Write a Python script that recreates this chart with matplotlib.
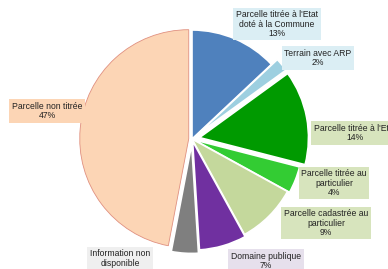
import matplotlib.pyplot as plt

labels = [
    "Parcelle titrée à l'Etat\ndoté à la Commune",
    "Terrain avec ARP",
    "Parcelle titrée à l'Etat",
    "Parcelle titrée au\nparticulier",
    "Parcelle cadastrée au\nparticulier",
    "Domaine publique",
    "Information non\ndisponible",
    "Parcelle non titrée",
]
shares = [13, 2, 14, 4, 9, 7, 4, 47]

colors = ["#4f81bd", "#9dcfe0", "#009a00", "#33cc33", "#c4d89c", "#7030a0", "#7f7f7f", "#fcd5b5"]
box_colors = ["#dbeef4", "#dbeef4", "#d7e4bd", "#d7e4bd", "#d7e4bd", "#e6e0ec", "#efefef", "#fcd5b5"]
explode = [0.0, 0.07, 0.07, 0.02, 0.0, 0.02, 0.05, 0.03]

# label centres in pixels (x, y from top)
label_px = [(277, 24), (318, 58), (355, 133), (334, 183), (326, 223), (266, 261), (120, 263), (47, 111)]

W, H = 388, 269
cx, cy, R = 192, 139, 109

fig = plt.figure(figsize=(W / 100, H / 100), dpi=100)
ax = fig.add_axes([0, 0, 1, 1])

wedges, _ = ax.pie(shares, colors=colors, explode=explode, startangle=90,
                   counterclock=False, radius=1.0,
                   wedgeprops=dict(edgecolor="white", linewidth=1.2))
wedges[-1].set_edgecolor("#e09080")
wedges[-1].set_linewidth(0.6)

# pie() resets the limits, so set them afterwards
ax.set_xlim(-cx / R, (W - cx) / R)
ax.set_ylim(-(H - cy) / R, cy / R)
ax.set_aspect("equal")
ax.axis("off")

for lab, s, (px, py), bc in zip(labels, shares, label_px, box_colors):
    ax.text((px - cx) / R, (cy - py) / R, "{}\n{}%".format(lab, s),
            ha="center", va="center", fontsize=6.2, family="Liberation Sans",
            color="#222222", linespacing=1.05,
            bbox=dict(boxstyle="square,pad=0.3", fc=bc, ec="none"))

fig.savefig("out.png", dpi=100)
